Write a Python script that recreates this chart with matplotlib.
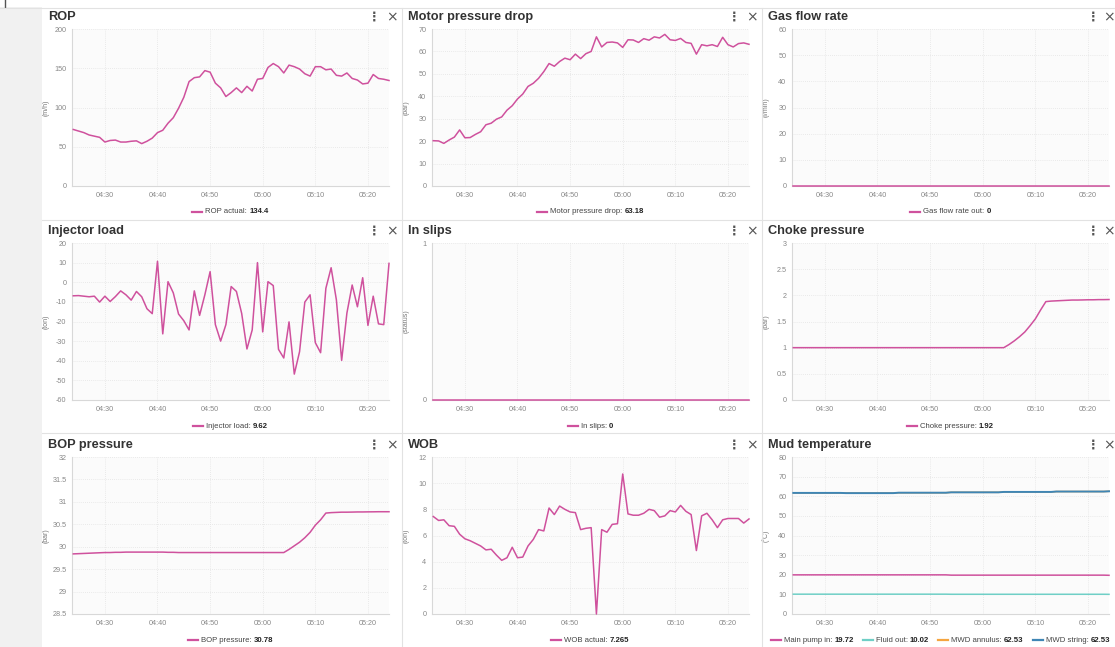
import numpy as np
import pandas as pd
import matplotlib
matplotlib.use("Agg")
import matplotlib.pyplot as plt
import matplotlib.dates as mdates

plt.rcParams["font.family"] = ["Liberation Sans", "DejaVu Sans"]

# ---------------- data ----------------
times = pd.date_range("2024-01-01 04:24", periods=61, freq="min")
tick_times = pd.date_range("2024-01-01 04:30", periods=6, freq="10min")

rop_actual = [72, 70, 68, 65, 63.5, 62, 56, 58, 58.5, 56, 56, 57, 57.5, 54, 57, 61, 68, 71, 80, 87,
              99, 113, 133, 138, 139, 147, 145, 131, 125, 114, 119, 125, 119, 127, 121, 136, 137, 151, 156, 152,
              144, 154, 152, 149, 143, 140, 152, 152, 148, 149, 141, 140, 144, 137, 135, 130, 131, 142, 137, 136,
              134.4]

motor_dp = [20.2, 20.1, 19, 20.5, 21.8, 25, 21.5, 21.6, 23, 24.2, 27.3, 28, 29.8, 30.8, 33.8, 35.8, 38.8, 41, 44.4, 45.8,
            48, 51, 54.6, 53.4, 55.5, 57, 56.3, 58.8, 56.8, 59, 60, 66.5, 62, 64, 64.2, 63.8, 61.8, 65.2, 65.1, 64,
            65.7, 65, 66.5, 66, 67.6, 65.2, 64.9, 65.8, 64, 63.6, 58.8, 63, 62.5, 63, 62.2, 66.3, 63, 62, 63.5, 63.8,
            63.18]

gas_flow_out = [0] * 61

injector_load = [-6.9, -6.8, -7.1, -7.4, -7.1, -10.1, -7.1, -9.8, -7.3, -4.4, -6.4, -9.1, -4.7, -7.4, -13.5, -16,
                 10.7, -26.3, 0.3, -5.4, -16.2, -19.6, -24.3, -4.4, -16.9, -6.4, 5.4, -21.6, -30, -21.6, -2.2, -4.7,
                 -15.9, -34, -24.3, 10, -25.3, 0.3, -1.7, -34.2, -38.6, -20.2, -46.8, -35.4, -10.1, -6.4, -30.8, -35.9,
                 -3.1, 7.4, -9, -39.8, -15.7, -1.4, -12.5, 2.3, -22, -7.1, -21.2, -21.6, 9.62]

in_slips = [0] * 61

choke_pressure = [1.0] * 41 + [1.06, 1.13, 1.21, 1.3, 1.42, 1.55, 1.72, 1.88, 1.89, 1.895, 1.9, 1.905,
                               1.91, 1.91, 1.912, 1.915, 1.915, 1.918, 1.918, 1.92]

bop_pressure = [29.84, 29.845, 29.85, 29.855, 29.86, 29.865, 29.87, 29.87, 29.875, 29.875, 29.88, 29.88, 29.88,
                29.88, 29.88, 29.88, 29.88, 29.88, 29.875, 29.875, 29.87, 29.87, 29.87, 29.87, 29.87, 29.87,
                29.87, 29.87, 29.87, 29.87, 29.87, 29.87, 29.87, 29.87, 29.87, 29.87, 29.87, 29.87, 29.87, 29.87,
                29.87, 29.94, 30.02, 30.1, 30.2, 30.32, 30.48, 30.6, 30.75, 30.76, 30.765, 30.77, 30.77, 30.772,
                30.775, 30.775, 30.777, 30.778, 30.78, 30.78, 30.78]

wob_actual = [7.45, 7.15, 7.2, 6.75, 6.7, 6.1, 5.75, 5.6, 5.4, 5.2, 4.9, 4.95, 4.5, 4.1, 4.3, 5.1, 4.3, 4.35, 5.2,
              5.7, 6.45, 6.35, 8.1, 7.6, 8.25, 8.0, 7.8, 7.75, 6.45, 6.55, 6.6, 0.0, 6.45, 6.25, 6.85, 6.9, 10.7,
              7.65, 7.55, 7.55, 7.7, 8.0, 7.9, 7.4, 7.5, 7.9, 7.8, 8.3, 7.85, 7.6, 4.85, 7.5, 7.7, 7.2, 6.6, 7.2,
              7.3, 7.3, 7.3, 6.95, 7.265]

mud_main_pump_in = [19.95] * 30 + [19.8] * 30 + [19.72]
mud_fluid_out = [10.1] * 30 + [10.05] * 30 + [10.02]
mud_mwd_annulus = [61.7] * 10 + [61.6] * 10 + [61.8] * 10 + [62.0] * 10 + [62.2] * 10 + [62.4] * 10 + [62.53]
mud_mwd_string = [61.7] * 10 + [61.6] * 10 + [61.8] * 10 + [62.0] * 10 + [62.2] * 10 + [62.4] * 10 + [62.53]

# ---------------- style ----------------
PINK = "#cf519d"
TEAL = "#6fcfc6"
ORANGE = "#f5a540"
BLUE = "#3f86b5"

W, H = 1115, 647
fig = plt.figure(figsize=(W / 100, H / 100), dpi=100)
fig.patch.set_facecolor("white")

# left grey strip and panel separators
fig.add_artist(plt.Rectangle((0, 0), 42 / W, (H - 7) / H, transform=fig.transFigure,
                             facecolor="#f1f1f1", edgecolor="none"))
fig.add_artist(plt.Line2D([5 / W, 5 / W], [1 - 0 / H, 1 - 7 / H], transform=fig.transFigure,
                          color="#555555", lw=1))
fig.add_artist(plt.Line2D([0, 1], [1 - 7.5 / H, 1 - 7.5 / H], transform=fig.transFigure,
                          color="#e2e2e2", lw=0.8))
for xs in (401.5, 761.5):
    fig.add_artist(plt.Line2D([xs / W, xs / W], [0, 1 - 8 / H], transform=fig.transFigure,
                              color="#e2e2e2", lw=0.8))
for ys in (219.5, 432.5):
    fig.add_artist(plt.Line2D([42 / W, 1], [1 - ys / H, 1 - ys / H], transform=fig.transFigure,
                              color="#e2e2e2", lw=0.8))

col_left = [42, 402, 762]
row_top = [8, 222, 436]

panels = [
    ("ROP", "(m/h)", (0, 200), [0, 50, 100, 150, 200],
     [("ROP actual", rop_actual, PINK, "134.4")]),
    ("Motor pressure drop", "(bar)", (0, 70), list(range(0, 71, 10)),
     [("Motor pressure drop", motor_dp, PINK, "63.18")]),
    ("Gas flow rate", "(l/min)", (0, 60), list(range(0, 61, 10)),
     [("Gas flow rate out", gas_flow_out, PINK, "0")]),
    ("Injector load", "(ton)", (-60, 20), list(range(-60, 21, 10)),
     [("Injector load", injector_load, PINK, "9.62")]),
    ("In slips", "(status)", (0, 1), [0, 1],
     [("In slips", in_slips, PINK, "0")]),
    ("Choke pressure", "(bar)", (0, 3), [0, 0.5, 1, 1.5, 2, 2.5, 3],
     [("Choke pressure", choke_pressure, PINK, "1.92")]),
    ("BOP pressure", "(bar)", (28.5, 32), [28.5, 29, 29.5, 30, 30.5, 31, 31.5, 32],
     [("BOP pressure", bop_pressure, PINK, "30.78")]),
    ("WOB", "(ton)", (0, 12), list(range(0, 13, 2)),
     [("WOB actual", wob_actual, PINK, "7.265")]),
    ("Mud temperature", "(°C)", (0, 80), list(range(0, 81, 10)),
     [("Main pump in", mud_main_pump_in, PINK, "19.72"),
      ("Fluid out", mud_fluid_out, TEAL, "10.02"),
      ("MWD annulus", mud_mwd_annulus, ORANGE, "62.53"),
      ("MWD string", mud_mwd_string, BLUE, "62.53")]),
]

def fmt_tick(v):
    if float(v).is_integer():
        return str(int(v))
    return ("%g" % v)

x0 = times[0] - pd.Timedelta(seconds=15)
x1 = times[-1]

legends = []
for i, (title, unit, ylim, yticks, series) in enumerate(panels):
    r, c = divmod(i, 3)
    pl = col_left[c]
    pt = row_top[r]
    ax_l = pl + 30
    ax_r = pl + 347
    ax_t = pt + 21
    ax_b = pt + 178
    ax = fig.add_axes([ax_l / W, 1 - ax_b / H, (ax_r - ax_l) / W, (ax_b - ax_t) / H])
    ax.set_facecolor("#fbfbfb")
    for s in ("top", "right"):
        ax.spines[s].set_visible(False)
    for s in ("left", "bottom"):
        ax.spines[s].set_color("#d8d8d8")
        ax.spines[s].set_linewidth(0.8)
    ax.grid(True, color="#e4e4e4", lw=0.6, ls=(0, (1, 1.5)))
    ax.set_axisbelow(True)
    for k, (name, vals, col, last) in enumerate(series):
        z = 3 if name != "MWD annulus" else 2.5
        lw = 1.1 if name != "MWD string" else 1.4
        ax.plot(times, vals, color=col, lw=lw, solid_joinstyle="round", zorder=z, clip_on=False)
    ax.set_xlim(x0, x1)
    ax.set_ylim(*ylim)
    ax.set_yticks(yticks)
    ax.set_yticklabels([fmt_tick(v) for v in yticks])
    ax.set_xticks(tick_times)
    ax.xaxis.set_major_formatter(mdates.DateFormatter("%H:%M"))
    ax.tick_params(axis="both", length=0, labelsize=5.2, colors="#888888", pad=4)
    ax.set_ylabel(unit, fontsize=5, color="#777777")
    ax.yaxis.set_label_coords(-0.072, 0.5)

    # title and icons
    fig.text((pl + 6) / W, 1 - (pt + 9) / H, title, fontsize=9.2, fontweight="bold",
             color="#333333", va="center", ha="left")
    ix = 332 if c < 2 else 331
    xx = 350 if c < 2 else 347
    fig.text((pl + ix) / W, 1 - (pt + 9) / H, "\u22ee", fontsize=9, color="#555555",
             va="center", ha="center", fontweight="bold", family="DejaVu Sans")
    fig.text((pl + xx) / W, 1 - (pt + 9) / H, "\u00d7", fontsize=10, color="#555555",
             va="center", ha="center", family="DejaVu Sans")

    # legend (custom, centered)
    ly = 1 - (pt + 204) / H
    items = []
    for name, vals, col, last in series:
        t_norm = fig.text(0, ly, f"{name}: ", fontsize=5.6, color="#444444", va="center")
        t_bold = fig.text(0, ly, last, fontsize=5.6, color="#222222", va="center", fontweight="bold")
        items.append((t_norm, t_bold, col))
    legends.append((items, pl, ax_l, ax_r, ly))

# position legends after measuring text
fig.canvas.draw()
renderer = fig.canvas.get_renderer()
for items, pl, ax_l, ax_r, ly in legends:
    line_w = 10
    gap1 = 3
    gap2 = 9
    widths = []
    for t_norm, t_bold, col in items:
        wn = t_norm.get_window_extent(renderer).width
        wb = t_bold.get_window_extent(renderer).width
        widths.append((wn, wb))
    total = sum(line_w + gap1 + wn + wb for wn, wb in widths) + gap2 * (len(items) - 1)
    cx = (ax_l + ax_r) / 2
    x = cx - total / 2
    if len(items) > 1:
        x = pl + 9
    for (t_norm, t_bold, col), (wn, wb) in zip(items, widths):
        fig.add_artist(plt.Line2D([x / W, (x + line_w) / W], [ly, ly], transform=fig.transFigure,
                                  color=col, lw=1.6))
        x += line_w + gap1
        t_norm.set_x(x / W)
        x += wn
        t_bold.set_x(x / W)
        x += wb + gap2

fig.savefig("out.png", dpi=100)
